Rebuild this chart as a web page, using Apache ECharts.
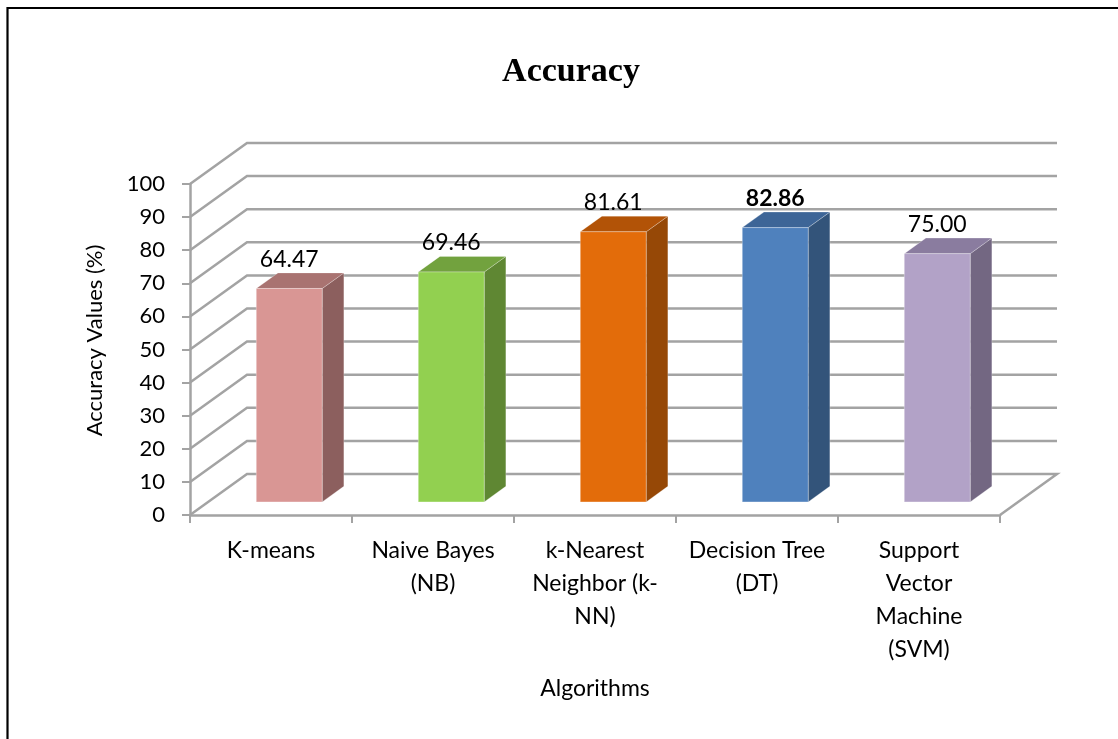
<!DOCTYPE html>
<html>
<head>
<meta charset="utf-8">
<title>Accuracy</title>
<script src="https://cdn.jsdelivr.net/npm/echarts@6/dist/echarts.min.js"></script>
<style>
  html, body { margin: 0; padding: 0; background: #ffffff; }
  #chart { width: 1118px; height: 739px; }
</style>
</head>
<body>
<div id="chart"></div>
<script>
// Algorithms compared and their accuracy (%)
const categories = [
  'K-means',
  'Naive Bayes\n(NB)',
  'k-Nearest\nNeighbor (k-\nNN)',
  'Decision Tree\n(DT)',
  'Support\nVector\nMachine\n(SVM)'
];
const accuracy = [64.47, 69.46, 81.61, 82.86, 75.00];
const valueLabels = ['64.47', '69.46', '81.61', '82.86', '75.00'];
const boldLabel = [false, false, false, true, false];

// Levels of the 3D wall / floor grid lines
const gridLevels = [0, 10, 20, 30, 40, 50, 60, 70, 80, 90, 100];

// Face colours per bar: front, side, top
const frontColors = ['#D99694', '#92D050', '#E36C0A', '#4F81BD', '#B2A2C7'];
const sideColors  = ['#8C5F5E', '#5F8733', '#964806', '#33547A', '#736782'];
const topColors   = ['#A97371', '#72A23E', '#B25307', '#3D6597', '#8A7C9F'];

// Depth of the 3D plot box in pixels (back wall offset)
const DEPTH_X = 57;
const DEPTH_Y = 41;
const BAR_FRONT = 0.32;   // bar front plane, as a share of box depth
const BAR_DEPTH = 0.38;   // bar thickness, as a share of box depth
const BAR_WIDTH = 0.407;  // bar width, as a share of category band

const FONT = 'Lato, "Open Sans", sans-serif';
const GRID_COLOR = '#A3A3A3';

const chart = echarts.init(document.getElementById('chart'), null, { renderer: 'canvas' });

function renderWalls(params, api) {
  const cs = params.coordSys;
  const level = api.value(0);
  const y = api.coord([0, level])[1];
  const x0 = cs.x;
  const x1 = cs.x + cs.width;
  const pts = [[x0, y], [x0 + DEPTH_X, y - DEPTH_Y], [x1 + DEPTH_X, y - DEPTH_Y]];
  if (level === 0) pts.push([x1, y]);
  return {
    type: 'polyline',
    shape: { points: pts },
    style: { stroke: GRID_COLOR, lineWidth: 2.5, fill: null },
    silent: true
  };
}

function renderBar(params, api) {
  const idx = api.value(0);
  const val = api.value(1);
  const base = api.coord([idx, 0]);
  const top = api.coord([idx, val]);
  const band = api.size([1, 0])[0];
  const w = band * BAR_WIDTH;
  const fx = DEPTH_X * BAR_FRONT, fy = DEPTH_Y * BAR_FRONT;
  const dx = DEPTH_X * BAR_DEPTH, dy = DEPTH_Y * BAR_DEPTH;
  const xl = base[0] - w / 2 + fx;
  const xr = xl + w;
  const yb = base[1] - fy;
  const yt = top[1] - fy;
  const i = params.dataIndex;
  return {
    type: 'group',
    children: [
      {
        type: 'polygon',
        shape: { points: [[xr, yt], [xr + dx, yt - dy], [xr + dx, yb - dy], [xr, yb]] },
        style: { fill: sideColors[i], stroke: 'rgba(255,255,255,0.25)', lineWidth: 1 }
      },
      {
        type: 'polygon',
        shape: { points: [[xl, yt], [xl + dx, yt - dy], [xr + dx, yt - dy], [xr, yt]] },
        style: { fill: topColors[i], stroke: 'rgba(255,255,255,0.25)', lineWidth: 1 }
      },
      {
        type: 'rect',
        shape: { x: xl, y: yt, width: w, height: yb - yt },
        style: { fill: frontColors[i], stroke: 'rgba(255,255,255,0.3)', lineWidth: 1 }
      },
      {
        type: 'text',
        x: (xl + xr) / 2,
        y: yt - 29,
        style: {
          text: valueLabels[i],
          fill: '#000',
          font: (boldLabel[i] ? 'bold ' : '') + '23px ' + FONT,
          align: 'center',
          verticalAlign: 'middle'
        }
      }
    ]
  };
}

const option = {
  backgroundColor: '#ffffff',
  animation: false,
  title: {
    text: 'Accuracy',
    left: 566,
    top: 50,
    textAlign: 'center',
    textStyle: {
      fontFamily: '"Liberation Serif", "Times New Roman", serif',
      fontWeight: 'bold',
      fontSize: 34,
      color: '#000'
    }
  },
  grid: { left: 190, right: 118, top: 184, bottom: 224, containLabel: false },
  xAxis: {
    type: 'category',
    data: categories,
    name: 'Algorithms',
    nameLocation: 'middle',
    nameGap: 162,
    nameTextStyle: { fontFamily: FONT, fontSize: 23, color: '#000' },
    axisLine: { lineStyle: { color: GRID_COLOR, width: 2.5 } },
    axisTick: { show: true, length: 8, lineStyle: { color: GRID_COLOR, width: 2 } },
    axisLabel: {
      interval: 0,
      margin: 19,
      fontFamily: FONT,
      fontSize: 23,
      lineHeight: 33,
      color: '#000'
    },
    splitLine: { show: false }
  },
  yAxis: {
    type: 'value',
    min: 0,
    max: 100,
    interval: 10,
    name: 'Accuracy Values (%)',
    nameLocation: 'middle',
    nameGap: 84,
    nameTextStyle: { fontFamily: FONT, fontSize: 22, color: '#000', padding: [0, 0, 0, 18] },
    axisLine: { show: true, lineStyle: { color: GRID_COLOR, width: 2.5 } },
    axisTick: { show: true, length: 8, lineStyle: { color: GRID_COLOR, width: 2 } },
    axisLabel: { margin: 25, fontFamily: FONT, fontSize: 22, color: '#000' },
    splitLine: { show: false }
  },
  series: [
    {
      type: 'custom',
      name: 'walls',
      renderItem: renderWalls,
      data: gridLevels.map(v => [v]),
      encode: { y: 0 },
      z: 1,
      silent: true
    },
    {
      type: 'custom',
      name: 'Accuracy',
      renderItem: renderBar,
      data: accuracy.map((v, i) => [i, v]),
      encode: { x: 0, y: 1 },
      z: 3
    }
  ],
  graphic: [
    {
      type: 'polyline',
      shape: { points: [[7.5, 739], [7.5, 8], [1118, 8]] },
      style: { stroke: '#000', lineWidth: 2.2, fill: null },
      silent: true
    }
  ]
};

chart.setOption(option);
</script>
</body>
</html>
